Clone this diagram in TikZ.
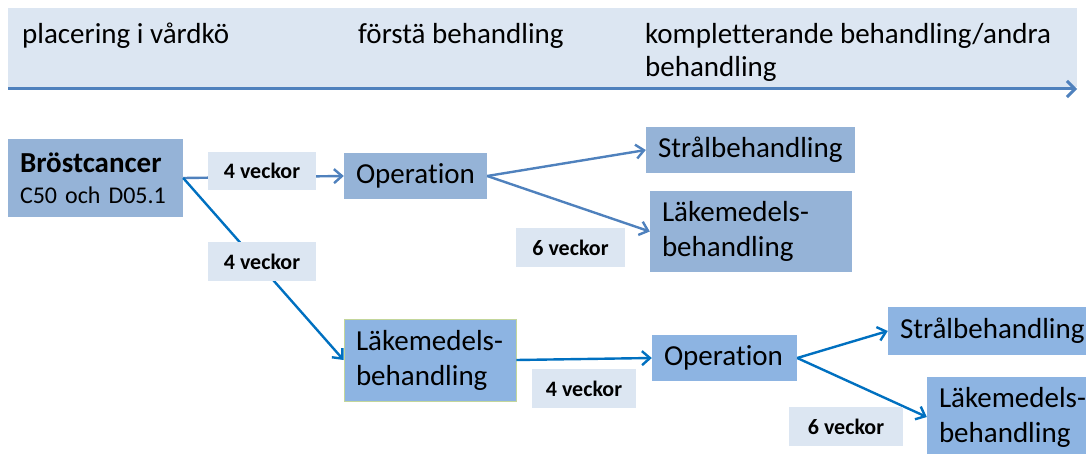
\documentclass[tikz,border=0pt]{standalone}
\usepackage{fontspec}
\setmainfont{Carlito}[Ligatures={NoCommon}]
\usetikzlibrary{arrows.meta}
\definecolor{bandc}{HTML}{DCE6F2}
\definecolor{boxA}{HTML}{95B3D7}
\definecolor{boxB}{HTML}{8DB4E2}
\definecolor{lineA}{HTML}{4F81BD}
\definecolor{lineB}{HTML}{0070C0}
\definecolor{edgeG}{HTML}{C3D69B}
\begin{document}
\begin{tikzpicture}[x=1pt,y=-1pt,
  bx/.style n args={3}{fill=boxA, inner xsep=12pt, inner ysep=0pt,
    minimum width=#1pt, minimum height=#2pt, text width=#3pt, align=left,
    font=\fontsize{29}{35}\selectfont},
  lab/.style n args={2}{fill=bandc, inner sep=0pt, minimum width=#1pt,
    minimum height=#2pt, font=\bfseries\fontsize{22}{24}\selectfont},
  head/.style={inner sep=0pt, anchor=base west, align=left,
    font=\fontsize{29}{33}\selectfont},
  conA/.style={draw=lineA, line width=2.4pt, -{Straight Barb[length=8pt,width=14pt]}},
  conB/.style={draw=lineB, line width=2.4pt, -{Straight Barb[length=8pt,width=14pt]}}
]
\useasboundingbox (0,0) rectangle (1086,454);
% header band
\fill[bandc] (8,8) rectangle (1077,87);
\coordinate (tl0) at (8,89);
\coordinate (tl1) at (1077,89);
\draw[draw=lineA, line width=3pt, -{Straight Barb[length=8pt,width=16pt]}] (tl0) -- (tl1);
\node[head] (h1) at (22,44) {placering i vårdkö};
\node[head] (h2) at (358,44) {förstä behandling};
\node[head] (h3) at (645,77) {kompletterande behandling/andra\\behandling};

% boxes
\node[bx={175}{78}{151}, font=\fontsize{24}{31}\selectfont] (bc) at (95.5,178)
  {{\bfseries\fontsize{29}{31}\selectfont Bröstcancer}\\C50 och D05.1};
\node[bx={143}{46}{119}] (op1) at (415.5,176) {Operation};
\node[bx={209}{46}{185}] (s1) at (750.5,150) {Strålbehandling};
\node[bx={202}{81}{178}] (lk1) at (751,231.5) {Läkemedels-\\behandling};
\node[bx={172}{82}{148}, fill=boxB, draw=edgeG, line width=0.8pt] (lk2) at (430,360) {Läkemedels-\\behandling};
\node[bx={145}{46}{121}, fill=boxB] (op2) at (724.5,358) {Operation};
\node[bx={210}{48}{186}, fill=boxB] (s2) at (993,331) {Strålbehandling};
\node[bx={175}{80}{151}, fill=boxB] (lk2b) at (1014.5,417) {Läkemedels-\\behandling};

% connectors
\draw[conA] (bc.east) -- (op1.west);
\draw[conB] (bc.east) -- (lk2.west);
\draw[conA] (op1.east) -- (s1.west);
\draw[conA] (op1.east) -- (lk1.west);
\draw[conB] (lk2.east) -- (op2.west);
\draw[conB] (op2.east) -- (s2.west);
\draw[conB] (op2.east) -- (lk2b.west);

% labels
\node[lab={108}{38}] (l1) at (262,171) {4 veckor};
\node[lab={108}{39}] (l2) at (262,261.5) {4 veckor};
\node[lab={109}{39}] (l6a) at (570.5,247.5) {6 veckor};
\node[lab={104}{39}] (l3) at (584,388.5) {4 veckor};
\node[lab={114}{39}] (l6b) at (846,426.5) {6 veckor};
\end{tikzpicture}
\end{document}
